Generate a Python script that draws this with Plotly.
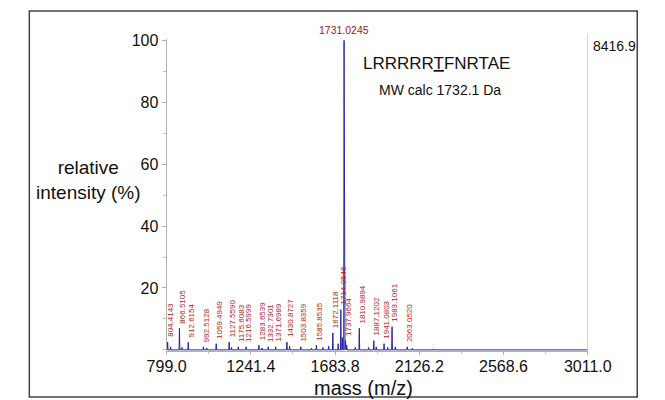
import plotly.graph_objects as go

# ---- data ----
peak_mz = [804.4143, 866.5105, 912.6154, 992.5128, 1059.4949, 1127.5590, 1175.6083,
           1216.5999, 1283.6539, 1332.7301, 1371.6989, 1430.8727, 1503.8359, 1585.8535,
           1672.1118, 1714.0546, 1731.0245, 1737.9664, 1810.9894, 1887.1202, 1941.0803,
           1983.1061, 2063.0520]
peak_int = [2.5, 7.0, 2.5, 1.0, 2.0, 2.5, 1.0,
            1.0, 1.5, 1.0, 1.0, 2.5, 1.0, 1.5,
            5.5, 13.0, 100.0, 3.0, 7.0, 3.0, 2.0,
            7.5, 1.0]
minor_mz = [820, 880, 1010, 1140, 1300, 1445, 1560, 1620, 1650, 1700, 1722, 1745,
            1790, 1860, 1900, 1960, 2000, 2090, 2200]
minor_int = [1.0, 0.8, 0.6, 0.8, 0.6, 1.2, 0.6, 0.8, 1.2, 2.0, 4.0, 1.5,
             0.8, 0.8, 1.0, 0.8, 1.0, 0.5, 0.3]
x_ticks = [799.0, 1241.4, 1683.8, 2126.2, 2568.6, 3011.0]
y_ticks = [20, 40, 60, 80, 100]
max_counts = "8416.9"
base_peak = "1731.0245"
peptide = "LRRRRR<u>T</u>FNRTAE"
mw_text = "MW calc 1732.1 Da"

X0, X1 = 799.0, 3011.0

# ---- spectrum as stick profile ----
allp = sorted(list(zip(peak_mz, peak_int)) + list(zip(minor_mz, minor_int)))
xs, ys = [X0], [0]
for m, h in allp:
    xs += [m - 2, m, m + 2]
    ys += [0, h, 0]
xs.append(X1)
ys.append(0)

W, H = 665, 400
FONT = "Arial, Liberation Sans, sans-serif"
px_l, px_r = 157, 608
px_y0, px_y100 = 349, 34
ppu = (px_y0 - px_y100) / 100.0
yr = [-0.5, 100.5]
dom_bot = px_y0 + 0.5 * ppu
dom_top = px_y100 - 0.5 * ppu

fig = go.Figure()
fig.add_trace(go.Scatter(x=xs, y=ys, mode="lines",
                         line=dict(color="#2626a0", width=1), hoverinfo="skip"))

annotations = []
for m, h in zip(peak_mz, peak_int):
    if m == 1731.0245:
        continue
    annotations.append(dict(x=m, y=h, xref="x", yref="y", text=f"{m:.4f}",
                            textangle=-90, showarrow=False, xanchor="center",
                            yanchor="bottom", yshift=3, xshift=3,
                            font=dict(family=FONT, size=8, color="#b01c1c")))
annotations.append(dict(x=1731.0245, y=100, xref="x", yref="y", text=base_peak,
                        showarrow=False, xanchor="center", yanchor="bottom", yshift=2,
                        font=dict(family=FONT, size=10.5, color="#a31515")))
annotations.append(dict(x=611 / W, y=1 - 40 / H, xref="paper", yref="paper",
                        text=max_counts, showarrow=False, xanchor="left", yanchor="middle",
                        font=dict(family=FONT, size=14, color="#111")))
annotations.append(dict(x=446 / W, y=1 - 58 / H, xref="paper", yref="paper",
                        text=peptide, showarrow=False, xanchor="center", yanchor="middle",
                        font=dict(family=FONT, size=17, color="#111")))
annotations.append(dict(x=450 / W, y=1 - 84 / H, xref="paper", yref="paper",
                        text=mw_text, showarrow=False, xanchor="center", yanchor="middle",
                        font=dict(family=FONT, size=14, color="#111")))
annotations.append(dict(x=73 / W, y=1 - 176 / H, xref="paper", yref="paper",
                        text="relative<br>intensity (%)", showarrow=False,
                        xanchor="center", yanchor="middle",
                        font=dict(family=FONT, size=19, color="#111")))
annotations.append(dict(x=368 / W, y=1 - 388 / H, xref="paper", yref="paper",
                        text="mass (m/z)", showarrow=False,
                        xanchor="center", yanchor="middle",
                        font=dict(family=FONT, size=20, color="#111")))

shapes = [
    dict(type="line", xref="x", yref="paper", x0=X1, x1=X1,
         y0=1 - 28 / H, y1=1 - px_y0 / H, line=dict(color="#b0b0b0", width=1)),
    dict(type="rect", xref="paper", yref="paper", x0=10 / W, x1=661 / W,
         y0=1 - 397 / H, y1=1 - 4 / H, line=dict(color="#444", width=1.5)),
]

fig.update_layout(
    width=W, height=H, margin=dict(l=0, r=0, t=0, b=0),
    paper_bgcolor="white", plot_bgcolor="white", showlegend=False,
    annotations=annotations, shapes=shapes,
    xaxis=dict(domain=[px_l / W, px_r / W], range=[X0, X1], tickvals=x_ticks,
               ticktext=[f"{v:.1f}" for v in x_ticks], showgrid=False, zeroline=False,
               showline=True, linecolor="#b0b0b0", linewidth=1,
               ticks="outside", ticklen=3, tickcolor="#b0b0b0", ticklabelstandoff=-3,
               minor=dict(ticks="outside", dtick=221.2, tick0=X0, ticklen=2, tickcolor="#c0c0c0"),
               tickfont=dict(family=FONT, size=16, color="#111")),
    yaxis=dict(domain=[1 - dom_bot / H, 1 - dom_top / H], range=yr, tickvals=y_ticks,
               showgrid=False, zeroline=False, showline=True, linecolor="#b0b0b0",
               linewidth=1, ticks="outside", ticklen=4, tickcolor="#b0b0b0",
               minor=dict(ticks="outside", dtick=10, tick0=0, ticklen=3, tickcolor="#c0c0c0"),
               tickfont=dict(family=FONT, size=16, color="#111")),
)

fig.write_html("out.html")
